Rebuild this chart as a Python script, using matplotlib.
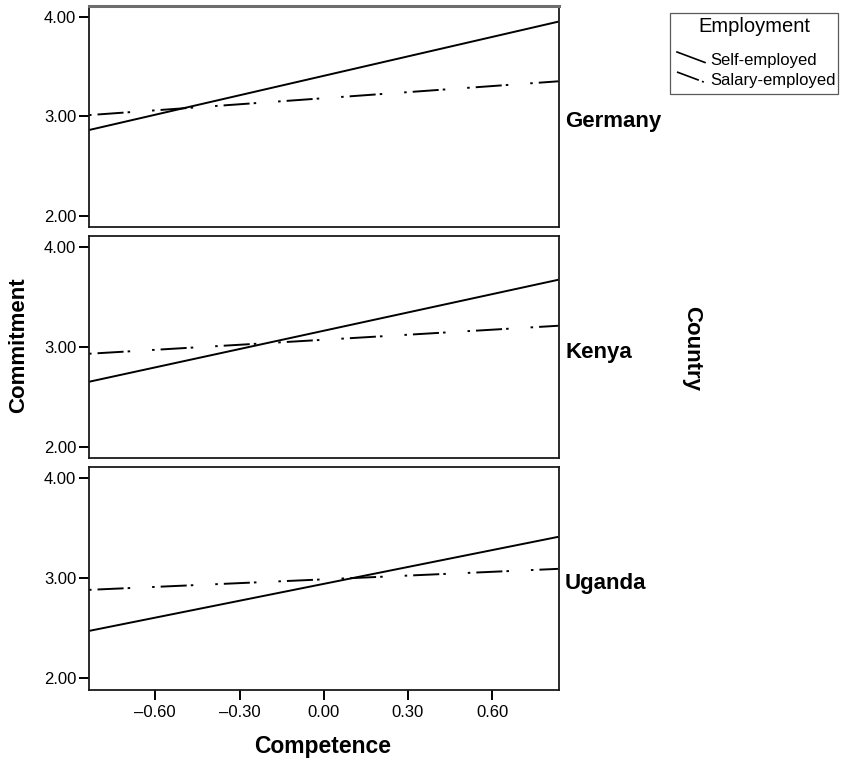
import matplotlib
matplotlib.use("Agg")
import matplotlib.pyplot as plt
from matplotlib.lines import Line2D
from matplotlib.patches import Rectangle

plt.rcParams['font.family'] = ['Liberation Sans', 'DejaVu Sans']

# ---- data ----
countries = ["Germany", "Kenya", "Uganda"]
x_ends = [-0.836, 0.836]
self_employed = {
    "Germany": [2.86, 3.95],
    "Kenya": [2.65, 3.67],
    "Uganda": [2.47, 3.41],
}
salary_employed = {
    "Germany": [3.01, 3.35],
    "Kenya": [2.93, 3.21],
    "Uganda": [2.88, 3.09],
}
series_names = ["Self-employed", "Salary-employed"]
legend_title = "Employment"
yticks = [2.0, 3.0, 4.0]
ytick_labels = ["2.00", "3.00", "4.00"]
xticks = [-0.6, -0.3, 0.0, 0.3, 0.6]
xtick_labels = ["\u20130.60", "\u20130.30", "0.00", "0.30", "0.60"]

W, H = 843, 762
fig = plt.figure(figsize=(W / 100, H / 100), dpi=100)

panels_px = [(6, 227), (236, 458.3), (467, 689.5)]
left_px, right_px = 89, 558.5

LW = 1.4
dashdot = (0, (1.3, 3.1, 13.4, 2.1, 1.3, 11.3))
axes = []
for i, (c, (t, b)) in enumerate(zip(countries, panels_px)):
    ax = fig.add_axes([left_px / W, 1 - b / H, (right_px - left_px) / W, (b - t) / H])
    axes.append(ax)
    ax.plot(x_ends, self_employed[c], color="black", lw=LW, solid_capstyle="butt")
    ax.plot(x_ends, salary_employed[c], color="black", lw=LW, linestyle=dashdot,
            dash_capstyle="butt")
    ax.set_xlim(x_ends[0], x_ends[1])
    ax.set_ylim(1.885, 4.107)
    ax.set_yticks(yticks)
    ax.set_yticklabels(ytick_labels)
    ax.tick_params(axis="y", length=7.2, width=1.4, pad=2, labelsize=12, color="black")
    for s in ax.spines.values():
        s.set_linewidth(1.3)
        s.set_color("#1a1a1a")
    if i == 0:
        ax.spines["top"].set_color("#6e6e6e")
        ax.spines["top"].set_linewidth(2.2)
    if i < 2:
        ax.set_xticks([])
    else:
        ax.set_xticks(xticks)
        ax.set_xticklabels(xtick_labels)
        ax.tick_params(axis="x", length=7.2, width=1.4, pad=4, labelsize=12, color="black")
    ax.text(1.014, 0.478, c, transform=ax.transAxes, fontsize=16,
            fontweight="bold", ha="left", va="center")

fig.text(19 / W, 1 - 345 / H, "Commitment", rotation=90, fontsize=16,
         fontweight="bold", ha="center", va="center")
fig.text(323 / W, 1 - 746 / H, "Competence", fontsize=16.5,
         fontweight="bold", ha="center", va="center")
fig.text(692 / W, 1 - 348 / H, "Country", rotation=-90, fontsize=16,
         fontweight="bold", ha="center", va="center")

# ---- legend drawn in a pixel-coordinate overlay ----
ov = fig.add_axes([0, 0, 1, 1], facecolor="none")
ov.set_xlim(0, W)
ov.set_ylim(H, 0)
ov.axis("off")
ov.add_patch(Rectangle((670, 13), 168, 81, fill=False, edgecolor="#5a5a5a", lw=0.9))
ov.text(754, 27, legend_title, fontsize=14.5, ha="center", va="center")
entry_y = [60, 80]
styles = ["-", (0, (14, 2.0, 1.2, 10))]
for name, yc, st in zip(series_names, entry_y, styles):
    ov.plot([677, 705], [yc - 8, yc + 2.5], color="black", lw=1.2, linestyle=st,
            dash_capstyle="butt")
    ov.text(710, yc, name, fontsize=12, ha="left", va="center")

fig.savefig("out.png", dpi=100)
